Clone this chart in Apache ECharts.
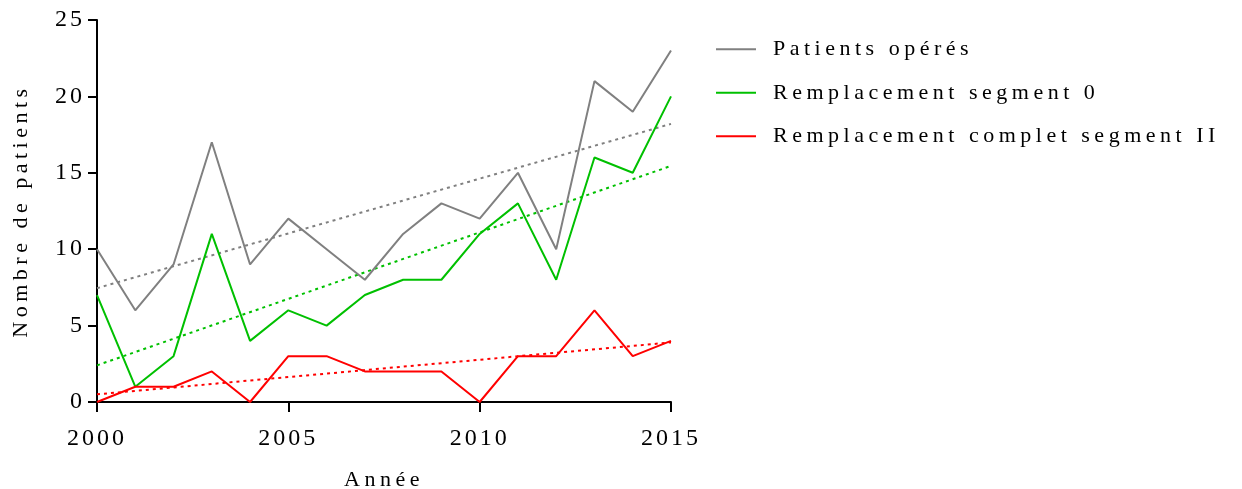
<!DOCTYPE html>
<html>
<head>
<meta charset="utf-8">
<script src="https://cdn.jsdelivr.net/npm/echarts@6/dist/echarts.min.js"></script>
<style>
  html, body { margin: 0; padding: 0; background: #fff; }
  #chart { width: 1242px; height: 489px; }
</style>
</head>
<body>
<div id="chart"></div>
<script>
// annees
var years = [2000, 2001, 2002, 2003, 2004, 2005, 2006, 2007, 2008, 2009, 2010, 2011, 2012, 2013, 2014, 2015];
// nombre de patients par an
var operes = [10, 6, 9, 17, 9, 12, 10, 8, 11, 13, 12, 15, 10, 21, 19, 23];
var segment0 = [7, 1, 3, 11, 4, 6, 5, 7, 8, 8, 11, 13, 8, 16, 15, 20];
var segmentII = [0, 1, 1, 2, 0, 3, 3, 2, 2, 2, 0, 3, 3, 6, 3, 4];
// droites de tendance (2000 -> 2015)
var trendYears = [2000, 2015];
var trendOperes = [7.45, 18.2];
var trendSeg0 = [2.4, 15.45];
var trendSegII = [0.5, 3.9];

var names = ["Patients opérés", "Remplacement segment 0", "Remplacement complet segment II"];
var colors = ["#808080", "#00c000", "#ff0000"];
var serifFont = "Liberation Serif";

// texte espacé comme dans la figure d'origine (chiffres 24px un peu moins espacés)
var ctxProto = CanvasRenderingContext2D.prototype;
var origFill = ctxProto.fillText;
var origMeasure = ctxProto.measureText;
function spacing(ctx) {
  ctx.letterSpacing = /24px/.test(ctx.font) ? "3px" : "4.5px";
}
ctxProto.fillText = function () {
  spacing(this);
  return origFill.apply(this, arguments);
};
ctxProto.measureText = function () {
  spacing(this);
  return origMeasure.apply(this, arguments);
};

function pairs(xs, ys) {
  return xs.map(function (x, i) { return [x, ys[i]]; });
}

function line(name, data, color) {
  return {
    name: name,
    type: "line",
    data: data,
    symbol: "none",
    lineStyle: { color: color, width: 2 },
    itemStyle: { color: color },
    animation: false
  };
}

function trend(data, color) {
  return {
    type: "line",
    data: data,
    symbol: "none",
    silent: true,
    lineStyle: { color: color, width: 2, type: [3, 4] },
    animation: false
  };
}

var myChart = echarts.init(document.getElementById("chart"), null, { renderer: "canvas" });
var option = {
  backgroundColor: "#fff",
  grid: { left: 97, right: 571, top: 20, bottom: 87, containLabel: false, outerBoundsMode: "none" },
  legend: {
    data: names,
    orient: "vertical",
    left: 711,
    top: 31,
    icon: "rect",
    itemWidth: 40,
    itemHeight: 2,
    itemGap: 17,
    textStyle: { fontFamily: serifFont, fontSize: 22, color: "#000", padding: [0, 0, 0, 12], lineHeight: 22 }
  },
  xAxis: {
    type: "value",
    min: 2000,
    max: 2015,
    interval: 5,
    name: "Année",
    nameLocation: "middle",
    nameGap: 65,
    nameTextStyle: { fontFamily: serifFont, fontSize: 22, color: "#000" },
    axisLine: { lineStyle: { color: "#000", width: 2 } },
    axisTick: { length: 10, lineStyle: { color: "#000", width: 2 } },
    axisLabel: { fontFamily: serifFont, fontSize: 24, color: "#000", margin: 23, formatter: function (v) { return String(v); } },
    splitLine: { show: false }
  },
  yAxis: {
    type: "value",
    min: 0,
    max: 25,
    interval: 5,
    name: "Nombre de patients",
    nameLocation: "middle",
    nameGap: 63,
    nameTextStyle: { fontFamily: serifFont, fontSize: 22, color: "#000" },
    axisLine: { show: true, lineStyle: { color: "#000", width: 2 } },
    axisTick: { show: true, length: 9, lineStyle: { color: "#000", width: 2 } },
    axisLabel: { fontFamily: serifFont, fontSize: 24, color: "#000", margin: 12 },
    splitLine: { show: false }
  },
  series: [
    trend(pairs(trendYears, trendOperes), colors[0]),
    trend(pairs(trendYears, trendSeg0), colors[1]),
    trend(pairs(trendYears, trendSegII), colors[2]),
    line(names[0], pairs(years, operes), colors[0]),
    line(names[1], pairs(years, segment0), colors[1]),
    line(names[2], pairs(years, segmentII), colors[2])
  ]
};
myChart.setOption(option);
</script>
</body>
</html>
